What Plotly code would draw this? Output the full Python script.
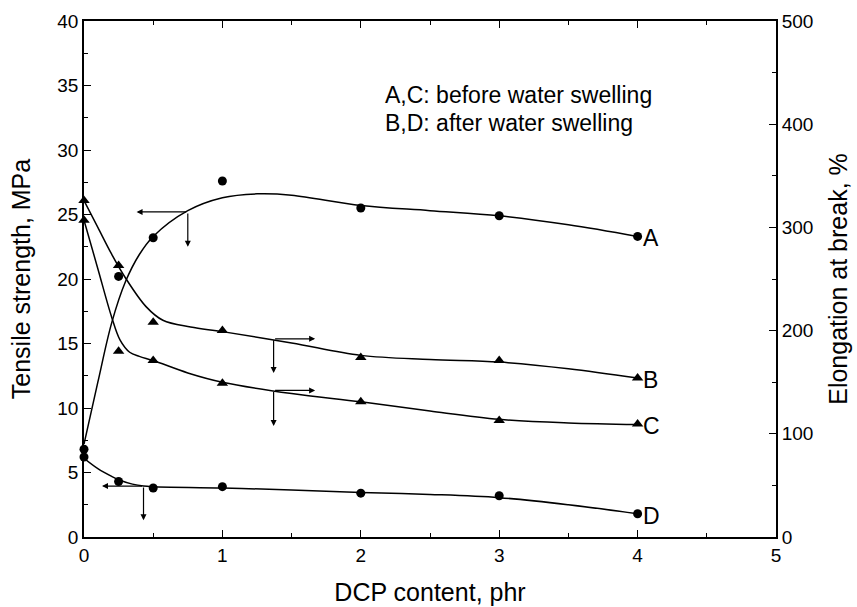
import plotly.graph_objects as go

# ---------------- data ----------------
dcp = [0, 0.25, 0.5, 1, 2, 3, 4]

# measured points
A_tensile = [6.8, 20.2, 23.2, 27.6, 25.5, 24.9, 23.3]      # MPa, before swelling
D_tensile = [6.2, 4.3, 3.8, 3.9, 3.4, 3.2, 1.8]            # MPa, after swelling
B_elong = [326, 263, 208, 200, 174, 171, 154]              # %, after swelling
C_elong = [307, 180, 171, 149, 131, 113, 109.5]            # %, before swelling

# fitted smooth curves as drawn in the figure
A_fit_x = [0, 0.1, 0.2, 0.3, 0.4, 0.5, 0.75, 1, 1.25, 1.5, 2, 2.5, 3, 3.5, 4]
A_fit_y = [7.2, 12.0, 16.6, 19.8, 21.9, 23.3, 25.3, 26.3, 26.6, 26.5, 25.7, 25.3, 24.9, 24.2, 23.3]

B_fit_x = [0, 0.1, 0.2, 0.3, 0.45, 0.57, 0.77, 1, 1.5, 2, 2.5, 3, 3.5, 4]
B_fit_y = [326, 300, 274, 251, 223, 210, 203.5, 199, 188, 176, 172, 169.5, 163, 154]

C_fit_x = [0, 0.1, 0.2, 0.26, 0.33, 0.4, 0.5, 0.75, 1, 1.5, 2, 2.5, 3, 3.5, 4]
C_fit_y = [307, 260, 213, 191, 179, 175, 171, 159, 150, 139, 131, 122, 114, 110.5, 109]

D_fit_x = [0, 0.1, 0.2, 0.26, 0.35, 0.43, 0.5, 1, 1.5, 2, 2.5, 3, 3.5, 4]
D_fit_y = [6.1, 5.3, 4.7, 4.4, 4.1, 3.95, 3.9, 3.8, 3.65, 3.45, 3.3, 3.05, 2.5, 1.8]

curve_labels = ["A", "B", "C", "D"]
legend_lines = ["A,C: before water swelling", "B,D: after water swelling"]
legend_y = [34.3, 32.1]

# axis-indicator arrows: (corner x, corner y, horizontal head x, vertical head y, axis)
arrows = [
    (0.75, 25.2, 0.38, 22.5, "y"),
    (0.43, 3.95, 0.13, 1.3, "y"),
    (1.37, 192, 1.67, 159, "y2"),
    (1.37, 142, 1.67, 107.6, "y2"),
]

FONT = "Liberation Sans, Arial, Helvetica, sans-serif"
line = dict(color="black", width=1.5)

fig = go.Figure()
fig.add_trace(go.Scatter(x=A_fit_x, y=A_fit_y, mode="lines", line_shape="spline", line=line, yaxis="y"))
fig.add_trace(go.Scatter(x=D_fit_x, y=D_fit_y, mode="lines", line_shape="spline", line=line, yaxis="y"))
fig.add_trace(go.Scatter(x=B_fit_x, y=B_fit_y, mode="lines", line_shape="spline", line=line, yaxis="y2"))
fig.add_trace(go.Scatter(x=C_fit_x, y=C_fit_y, mode="lines", line_shape="spline", line=line, yaxis="y2"))

circ = dict(symbol="circle", size=9, color="black")
tri = dict(symbol="triangle-up", size=10, color="black")
fig.add_trace(go.Scatter(x=dcp, y=A_tensile, mode="markers", marker=circ, yaxis="y", cliponaxis=False))
fig.add_trace(go.Scatter(x=dcp, y=D_tensile, mode="markers", marker=circ, yaxis="y", cliponaxis=False))
fig.add_trace(go.Scatter(x=dcp, y=B_elong, mode="markers", marker=tri, yaxis="y2", cliponaxis=False))
fig.add_trace(go.Scatter(x=dcp, y=C_elong, mode="markers", marker=tri, yaxis="y2", cliponaxis=False))

annotations = []
# curve end labels
ends = [(dcp[-1], A_tensile[-1], "y"), (dcp[-1], B_elong[-1], "y2"),
        (dcp[-1], C_elong[-1], "y2"), (dcp[-1], D_tensile[-1], "y")]
for lab, (ex, ey, yr) in zip(curve_labels, ends):
    annotations.append(dict(x=ex, y=ey, xref="x", yref=yr, text=lab, showarrow=False,
                            xanchor="left", yanchor="middle", xshift=3, yshift=-2,
                            font=dict(family=FONT, size=23, color="black")))

# legend-like text
for txt, ly in zip(legend_lines, legend_y):
    annotations.append(dict(x=2.16, y=ly, xref="x", yref="y", text=txt, showarrow=False,
                            xanchor="left", yanchor="middle",
                            font=dict(family=FONT, size=23, color="black")))

# arrows
for cx, cy, hx, vy, yr in arrows:
    annotations.append(dict(x=hx, y=cy, ax=cx, ay=cy, xref="x", yref=yr, axref="x", ayref=yr,
                            text="", showarrow=True, arrowhead=2, arrowsize=1, arrowwidth=1.2,
                            arrowcolor="black", standoff=0, startstandoff=0))
    annotations.append(dict(x=cx, y=vy, ax=cx, ay=cy, xref="x", yref=yr, axref="x", ayref=yr,
                            text="", showarrow=True, arrowhead=2, arrowsize=1, arrowwidth=1.2,
                            arrowcolor="black", standoff=0, startstandoff=0))

tickfont = dict(family=FONT, size=19, color="black")
titlefont = dict(family=FONT, size=25, color="black")

common = dict(ticks="inside", ticklen=7, tickwidth=1.3, tickcolor="black",
              showline=True, linecolor="black", linewidth=1.8, automargin=False,
              showgrid=False, zeroline=False, tickfont=tickfont)

fig.update_layout(
    width=857, height=607,
    margin=dict(l=84, r=81, t=21, b=70, autoexpand=False),
    paper_bgcolor="white", plot_bgcolor="white",
    showlegend=False,
    font=dict(family=FONT, color="black"),
    annotations=annotations,
    xaxis=dict(range=[0, 5], dtick=1, tick0=0, mirror="ticks",
               minor=dict(dtick=0.5, ticks="inside", ticklen=4, tickcolor="black", tickwidth=1.3),
               title=dict(text="DCP content, phr", font=titlefont, standoff=19), **common),
    yaxis=dict(range=[0, 40], dtick=5, tick0=0,
               minor=dict(dtick=2.5, ticks="inside", ticklen=4, tickcolor="black", tickwidth=1.3),
               title=dict(text="Tensile strength, MPa", font=titlefont, standoff=19), **common),
    yaxis2=dict(range=[0, 500], dtick=100, tick0=0, overlaying="y", side="right", anchor="x",
                minor=dict(dtick=50, ticks="inside", ticklen=4, tickcolor="black", tickwidth=1.3),
                title=dict(text="Elongation at break, %", font=titlefont, standoff=17), **common),
)

fig.write_html("out.html")
